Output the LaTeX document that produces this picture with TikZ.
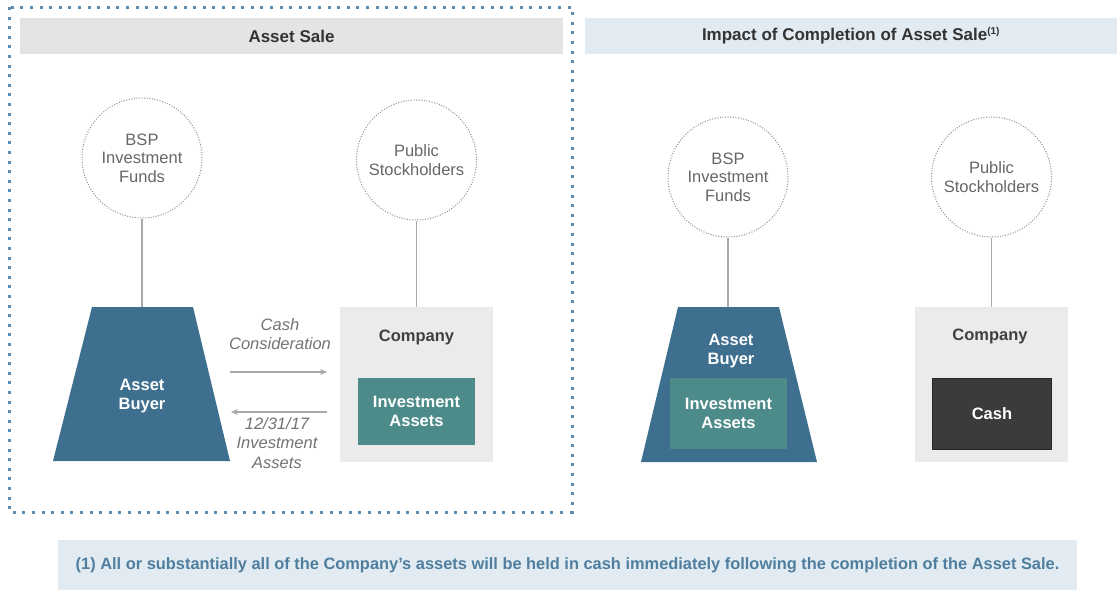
\documentclass[tikz,border=0pt]{standalone}
\usepackage{fontspec}
\setmainfont{Liberation Sans}
\usetikzlibrary{arrows.meta}

\definecolor{buyerblue}{HTML}{3E6F8E}
\definecolor{assetteal}{HTML}{4C8B89}
\definecolor{boxgray}{HTML}{EBEBEB}
\definecolor{cashgray}{HTML}{3B3B3B}
\definecolor{hdrgray}{HTML}{E3E4E5}
\definecolor{hdrblue}{HTML}{E2EBF2}
\definecolor{frameblue}{HTML}{5B8DB3}
\definecolor{notetext}{HTML}{4F7E9E}
\definecolor{circgray}{HTML}{8E8E8E}
\definecolor{linkgray}{HTML}{A8A8A8}

\newcommand{\dgfont}{\fontsize{16.5}{18.5}\selectfont}

\tikzset{
  party/.style={circle, draw=circgray, line width=1pt, dash pattern=on 1pt off 1.6pt,
    minimum size=120pt, inner sep=0pt, align=center, text=black!60, font=\dgfont},
  link/.style={draw=linkgray, line width=1.3pt},
  flow/.style={draw=linkgray, line width=1.2pt, -{Stealth[length=7pt,width=6pt]}},
  flowtxt/.style={align=center, text=black!55, font=\fontsize{16.5}{19.5}\selectfont\itshape},
  buyer/.style={fill=buyerblue},
  whitetxt/.style={align=center, text=white, font=\dgfont\bfseries},
  cobox/.style={rectangle, fill=boxgray, minimum width=153, minimum height=155, inner sep=0pt},
  cotitle/.style={text=black!75, font=\dgfont\bfseries},
  invbox/.style={rectangle, fill=assetteal, minimum width=117, minimum height=67, inner sep=0pt,
    align=center, text=white, font=\dgfont\bfseries},
  cashbox/.style={rectangle, fill=cashgray, draw=black!85, line width=1.2pt, minimum width=119,
    minimum height=71, inner sep=0pt, text=white, font=\dgfont\bfseries},
  hdr/.style={rectangle, minimum height=36, inner sep=0pt, text=black!80, font=\fontsize{17}{20}\selectfont\bfseries},
  note/.style={rectangle, fill=hdrblue, minimum width=1019, minimum height=50, inner sep=0pt,
    text=notetext, font=\fontsize{16.4}{19}\selectfont\bfseries},
}

\begin{document}
\begin{tikzpicture}[x=1pt, y=-1pt]
  \useasboundingbox (0,0) rectangle (1117,590);

  % dotted frame round the asset sale
  \draw[frameblue, line width=3pt, dash pattern=on 3pt off 6.6pt] (9,7) rectangle (572,512);

  % headers
  \node[hdr, fill=hdrgray, minimum width=543] (saleHdr) at (291.5,36) {Asset Sale};
  \node[hdr, fill=hdrblue, minimum width=532] (impactHdr) at (851,36) {Impact of Completion of Asset Sale\textsuperscript{\fontsize{10}{10}\selectfont(1)}};

  % asset sale
  \node[party] (bspL) at (142,158) {BSP\\Investment\\Funds};
  \node[party] (pubL) at (416.5,160) {Public\\Stockholders};

  \path[buyer] (92,307) -- (193,307) -- (230,461) -- (53,461) -- cycle;
  \coordinate (buyerL) at (142,307);
  \node[whitetxt] (buyerLtxt) at (142,396) {Asset\\Buyer};

  \node[cobox] (coL) at (416.5,384.5) {};
  \node[cotitle] (coLtxt) at (416.5,337) {Company};
  \node[invbox] (invL) at (416.5,411.5) {Investment\\Assets};

  \draw[link] (bspL) -- (buyerL);
  \draw[link] (pubL) -- (coL);

  \coordinate (cashA) at (230,372);
  \coordinate (cashB) at (327,372);
  \coordinate (assetA) at (327,412);
  \coordinate (assetB) at (231,412);
  \draw[flow] (cashA) -- (cashB);
  \draw[flow] (assetA) -- (assetB);
  \node[flowtxt] (cashTxt) at (280,334) {Cash\\Consideration};
  \node[flowtxt] (assetTxt) at (277,443) {12/31/17\\Investment\\Assets};

  % after completion
  \node[party] (bspR) at (728,177) {BSP\\Investment\\Funds};
  \node[party] (pubR) at (991.5,177) {Public\\Stockholders};

  \path[buyer] (678,307) -- (779,307) -- (817,462) -- (641,462) -- cycle;
  \coordinate (buyerR) at (728,307);
  \node[whitetxt] (buyerRtxt) at (731,351) {Asset\\Buyer};
  \node[invbox, minimum height=71] (invR) at (728.5,413.5) {Investment\\Assets};

  \node[cobox] (coR) at (991.5,384.5) {};
  \node[cotitle] (coRtxt) at (990,336) {Company};
  \node[cashbox] (cashR) at (992,414) {Cash};

  \draw[link] (bspR) -- (buyerR);
  \draw[link] (pubR) -- (coR);

  % footnote
  \node[note] (footnote) at (567.5,565) {(1) All or substantially all of the Company's assets will be held in cash immediately following the completion of the Asset Sale.};
\end{tikzpicture}
\end{document}
